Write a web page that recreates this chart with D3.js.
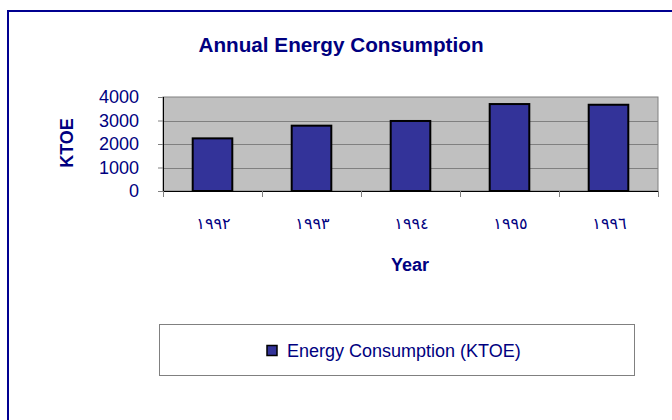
<!DOCTYPE html>
<html>
<head>
<meta charset="utf-8">
<script src="https://cdn.jsdelivr.net/npm/d3@7"></script>
<style>
  body { margin: 0; background: #fff; }
  svg text { font-family: "Liberation Sans", Arial, sans-serif; fill: #000080; }
</style>
</head>
<body>
<div id="MapDiv"></div>
<script>
// chart data
var years = ['١٩٩٢', '١٩٩٣', '١٩٩٤', '١٩٩٥', '١٩٩٦'];
var consumption = [2240, 2780, 2980, 3700, 3670];
var yTicks = [0, 1000, 2000, 3000, 4000];
var seriesName = 'Energy Consumption (KTOE)';

var svg = d3.select('#MapDiv').append('svg')
    .attr('width', 672)
    .attr('height', 420);

// outer frame (right / bottom run off the picture)
svg.append('path')
    .attr('d', 'M8,430 V11 H680')
    .attr('fill', 'none')
    .attr('stroke', '#000090')
    .attr('stroke-width', 2);

var plot = { left: 163, top: 97, right: 658, bottom: 191 };

var x = d3.scaleBand()
    .domain(years)
    .range([plot.left, plot.right])
    .paddingInner(0.6)
    .paddingOuter(0.3);

var y = d3.scaleLinear()
    .domain([0, 4000])
    .range([plot.bottom, plot.top]);

// plot background
svg.append('rect')
    .attr('x', plot.left)
    .attr('y', plot.top)
    .attr('width', plot.right - plot.left)
    .attr('height', plot.bottom - plot.top)
    .attr('fill', '#c0c0c0')
    .attr('stroke', '#808080')
    .attr('stroke-width', 1);

// gridlines
svg.selectAll('line.grid')
    .data(yTicks.slice(1, -1))
    .enter().append('line')
    .attr('class', 'grid')
    .attr('x1', plot.left)
    .attr('x2', plot.right)
    .attr('y1', function (d) { return Math.round(y(d)) + 0.5; })
    .attr('y2', function (d) { return Math.round(y(d)) + 0.5; })
    .attr('stroke', '#808080')
    .attr('stroke-width', 1);

// bars
svg.selectAll('rect.bar')
    .data(consumption)
    .enter().append('rect')
    .attr('class', 'bar')
    .attr('x', function (d, i) { return x(years[i]); })
    .attr('y', function (d) { return y(d); })
    .attr('width', x.bandwidth())
    .attr('height', function (d) { return plot.bottom - y(d); })
    .attr('fill', '#333399')
    .attr('stroke', '#000')
    .attr('stroke-width', 2);

// y axis
var yAxis = svg.append('g')
    .attr('transform', 'translate(' + plot.left + ',0)')
    .call(d3.axisLeft(y).tickValues(yTicks).tickSize(5).tickPadding(19).tickFormat(d3.format('d')));
yAxis.select('.domain').attr('stroke', '#000').attr('d', 'M0.5,' + plot.top + 'V' + plot.bottom);
yAxis.selectAll('.tick line').attr('stroke', '#808080');
yAxis.selectAll('text')
    .style('font-size', '18px')
    .style('font-family', '"Liberation Sans", Arial, sans-serif')
    .attr('fill', '#000080');

// x axis: ticks between the categories, labels under the bars
var bounds = d3.range(years.length + 1).map(function (i) {
    return plot.left + i * x.step();
});
svg.append('line')
    .attr('x1', plot.left).attr('x2', plot.right)
    .attr('y1', plot.bottom + 0.5).attr('y2', plot.bottom + 0.5)
    .attr('stroke', '#000');
svg.selectAll('line.xtick')
    .data(bounds)
    .enter().append('line')
    .attr('class', 'xtick')
    .attr('x1', function (d) { return Math.round(d) + 0.5; })
    .attr('x2', function (d) { return Math.round(d) + 0.5; })
    .attr('y1', plot.bottom)
    .attr('y2', plot.bottom + 6)
    .attr('stroke', '#808080');

svg.selectAll('text.xlab')
    .data(years)
    .enter().append('text')
    .attr('class', 'xlab')
    .attr('x', function (d) { return x(d) + x.bandwidth() / 2 + 1; })
    .attr('y', 229)
    .attr('text-anchor', 'middle')
    .style('font-family', '"DejaVu Sans", sans-serif')
    .style('font-size', '16px')
    .style('letter-spacing', '1.5px')
    .text(function (d) { return d; });

// titles
svg.append('text')
    .attr('x', 341).attr('y', 52)
    .attr('text-anchor', 'middle')
    .style('font-size', '20.7px')
    .style('font-weight', 'bold')
    .text('Annual Energy Consumption');

svg.append('text')
    .attr('x', 410).attr('y', 271)
    .attr('text-anchor', 'middle')
    .style('font-size', '18px')
    .style('font-weight', 'bold')
    .text('Year');

svg.append('text')
    .attr('transform', 'translate(73,143) rotate(-90)')
    .attr('text-anchor', 'middle')
    .style('font-size', '18px')
    .style('font-weight', 'bold')
    .text('KTOE');

// legend
var legend = svg.append('g');
legend.append('rect')
    .attr('x', 159.5).attr('y', 324.5)
    .attr('width', 475).attr('height', 51)
    .attr('fill', '#fff')
    .attr('stroke', '#808080');
legend.append('rect')
    .attr('x', 267).attr('y', 345.5)
    .attr('width', 10).attr('height', 10)
    .attr('fill', '#333399')
    .attr('stroke', '#000')
    .attr('stroke-width', 1.5);
legend.append('text')
    .attr('x', 287).attr('y', 357)
    .style('font-size', '18px')
    .text(seriesName);
</script>
</body>
</html>
